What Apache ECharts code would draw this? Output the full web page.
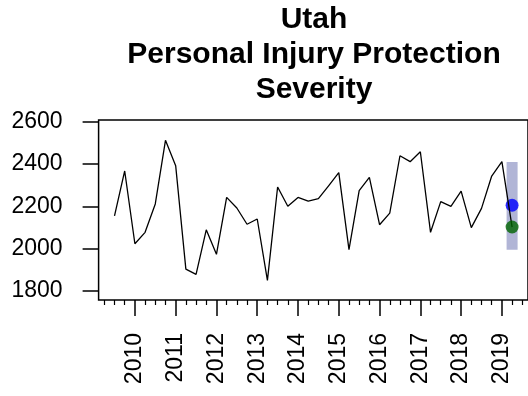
<!DOCTYPE html>
<html>
<head>
<meta charset="utf-8">
<script src="https://cdn.jsdelivr.net/npm/echarts@6/dist/echarts.min.js"></script>
<style>
  html, body { margin: 0; padding: 0; background: #ffffff; }
  #chart { width: 528px; height: 396px; }
</style>
</head>
<body>
<div id="chart"></div>
<script>
// Quarterly severity, Utah PIP
const quarterTimes = [
  2009.5, 2009.75, 2010.0, 2010.25, 2010.5, 2010.75, 2011.0, 2011.25,
  2011.5, 2011.75, 2012.0, 2012.25, 2012.5, 2012.75, 2013.0, 2013.25,
  2013.5, 2013.75, 2014.0, 2014.25, 2014.5, 2014.75, 2015.0, 2015.25,
  2015.5, 2015.75, 2016.0, 2016.25, 2016.5, 2016.75, 2017.0, 2017.25,
  2017.5, 2017.75, 2018.0, 2018.25, 2018.5, 2018.75, 2019.0, 2019.25
];
const severity = [
  2155, 2367, 2023, 2077, 2211, 2512, 2392, 1903,
  1878, 2089, 1973, 2242, 2192, 2115, 2140, 1850,
  2291, 2200, 2242, 2224, 2236, 2297, 2359, 1995,
  2274, 2337, 2113, 2168, 2439, 2411, 2458, 2077,
  2222, 2200, 2272, 2099, 2190, 2343, 2411, 2102
];
// Latest quarter: range band, predicted and actual values
const bandTime = 2019.25;
const bandRange = [1995, 2410];
const predicted = [2019.25, 2205];
const actual = [2019.25, 2102];

// Axis ticks
const yearTicks = [2010, 2011, 2012, 2013, 2014, 2015, 2016, 2017, 2018, 2019];
const quarterTicks = [
  2009.25, 2009.5, 2009.75, 2010.25, 2010.5, 2010.75, 2011.25, 2011.5, 2011.75,
  2012.25, 2012.5, 2012.75, 2013.25, 2013.5, 2013.75, 2014.25, 2014.5, 2014.75,
  2015.25, 2015.5, 2015.75, 2016.25, 2016.5, 2016.75, 2017.25, 2017.5, 2017.75,
  2018.25, 2018.5, 2018.75, 2019.25, 2019.5
];
const yTicks = [1800, 2000, 2200, 2400, 2600];

const titleLines = ['Utah', 'Personal Injury Protection', 'Severity'];

const FONT = '"Liberation Sans", Arial, Helvetica, sans-serif';
const chart = echarts.init(document.getElementById('chart'), null, { renderer: 'canvas' });

const lineData = quarterTimes.map((t, i) => [t, severity[i]]);

chart.setOption({
  animation: false,
  backgroundColor: '#ffffff',
  // Title centred over the plotting region
  graphic: [
    {
      type: 'text',
      x: 314,
      y: 2,
      style: {
        text: titleLines.join('\n'),
        align: 'center',
        verticalAlign: 'top',
        font: 'bold 30px ' + FONT,
        lineHeight: 35,
        fill: '#000000'
      }
    }
  ],
  grid: {
    left: 98.6,
    top: 120,
    width: 431,
    height: 180,
    show: true,
    borderColor: '#000000',
    borderWidth: 1.5,
    backgroundColor: 'transparent'
  },
  xAxis: [
    {
      type: 'value',
      min: 2009.11,
      max: 2019.64,
      position: 'bottom',
      axisLine: { show: false },
      splitLine: { show: false },
      axisTick: {
        show: true,
        customValues: yearTicks,
        length: 16,
        lineStyle: { color: '#000000', width: 1.5 }
      },
      axisLabel: {
        customValues: yearTicks,
        rotate: 90,
        margin: 33,
        fontFamily: FONT,
        fontSize: 23,
        color: '#000000',
        formatter: v => String(Math.round(v))
      }
    },
    {
      type: 'value',
      min: 2009.11,
      max: 2019.64,
      position: 'bottom',
      axisLine: { show: false },
      splitLine: { show: false },
      axisLabel: { show: false },
      axisTick: {
        show: true,
        customValues: quarterTicks,
        length: 5,
        lineStyle: { color: '#000000', width: 1.2 }
      }
    }
  ],
  yAxis: {
    type: 'value',
    min: 1757,
    max: 2608,
    axisLine: { show: false },
    splitLine: { show: false },
    axisTick: {
      show: true,
      customValues: yTicks,
      length: 16,
      lineStyle: { color: '#000000', width: 1.5 }
    },
    axisLabel: {
      customValues: yTicks,
      margin: 36,
      fontFamily: FONT,
      fontSize: 23,
      color: '#000000',
      formatter: v => String(Math.round(v))
    }
  },
  series: [
    {
      name: 'range',
      type: 'custom',
      z: 1,
      data: [[bandTime, bandRange[0], bandRange[1]]],
      renderItem: function (params, api) {
        const lo = api.coord([api.value(0), api.value(1)]);
        const hi = api.coord([api.value(0), api.value(2)]);
        const w = api.size([0.27, 0])[0];
        return {
          type: 'rect',
          shape: { x: lo[0] - w / 2, y: hi[1], width: w, height: lo[1] - hi[1] },
          style: { fill: '#b1b5d6' }
        };
      }
    },
    {
      name: 'predicted',
      type: 'scatter',
      z: 2,
      symbol: 'circle',
      symbolSize: 13,
      itemStyle: { color: '#0000ff' },
      data: [predicted]
    },
    {
      name: 'severity',
      type: 'line',
      z: 3,
      symbol: 'none',
      lineStyle: { color: '#000000', width: 1.3 },
      data: lineData
    },
    {
      name: 'actual',
      type: 'scatter',
      z: 4,
      symbol: 'circle',
      symbolSize: 13,
      itemStyle: { color: '#006400' },
      data: [actual]
    }
  ]
});
</script>
</body>
</html>
